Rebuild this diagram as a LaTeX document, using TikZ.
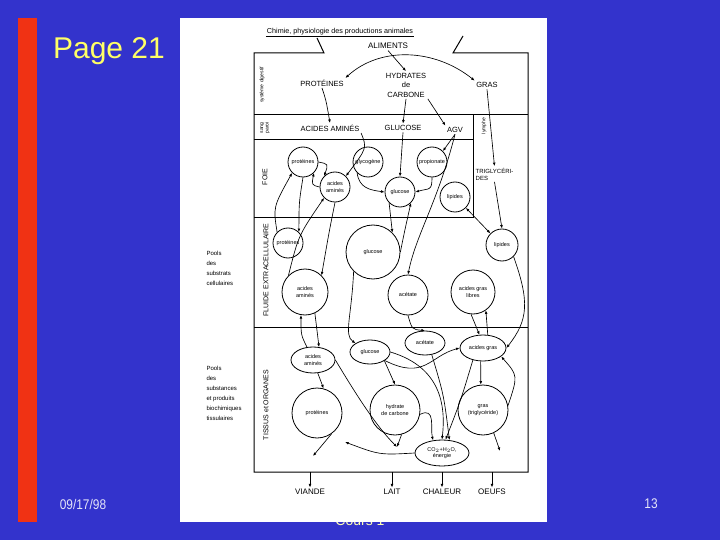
\documentclass[tikz,border=0pt]{standalone}
\usepackage{fontspec}
\setmainfont{Liberation Sans}
\usepackage{tikz}
\usetikzlibrary{arrows.meta, shapes.geometric}

\definecolor{fond}{RGB}{51,51,204}
\definecolor{barre}{RGB}{240,50,20}
\definecolor{jaune}{RGB}{255,255,102}
\definecolor{pied}{RGB}{228,228,248}

\newcommand\scanTitre{\fontsize{7.2}{8}\selectfont}
\newcommand\scanCap{\fontsize{7.5}{9.5}\selectfont}
\newcommand\scanSortie{\fontsize{8}{9}\selectfont}
\newcommand\scanPetit{\fontsize{5.5}{6.2}\selectfont}
\newcommand\scanZone{\fontsize{7}{7.5}\selectfont}
\newcommand\scanMini{\fontsize{5}{5.5}\selectfont}
\newcommand\scanPools{\fontsize{6}{10}\selectfont}

\tikzset{
  cadre/.style={line width=1pt},
  fleche/.style={-{Latex[length=3.6pt,width=2.8pt]}, line width=0.65pt},
  fleches/.style={{Latex[length=3.6pt,width=2.8pt]}-{Latex[length=3.6pt,width=2.8pt]}, line width=0.65pt},
  bassin/.style={circle, draw, line width=0.8pt, inner sep=0pt, align=center, font=\scanPetit},
  reserve/.style={ellipse, draw, line width=0.8pt, inner sep=0pt, align=center, font=\scanPetit},
  etiquette/.style={font=\scanCap, align=center, inner sep=1.5pt},
  zone/.style={rotate=90, font=\scanZone, inner sep=0pt},
}

\begin{document}
\begin{tikzpicture}[x=1pt,y=-1pt]
  % diapositive
  \fill[fond] (0,0) rectangle (720,540);
  \useasboundingbox (0,0) rectangle (720,540);
  \fill[barre] (18,18) rectangle (37,522);
  \node[text=jaune, font=\fontsize{30}{34}\selectfont] (page) at (109,51) {Page 21};
  \node[text=pied, font=\fontsize{14}{16}\selectfont] (date) at (83,504) {\scalebox{0.85}[1]{09/17/98}};
  \node[text=pied, font=\fontsize{14}{16}\selectfont] (numero) at (651,504) {\scalebox{0.85}[1]{13}};
  \node[text=jaune!50!white, anchor=base, font=\fontsize{14}{16}\selectfont] (cours) at (360,525) {Cours 1};

  % page scannee
  \fill[white] (180,18) rectangle (547,522);
  \node[font=\scanTitre, inner sep=1pt] (titreScan) at (340,32) {Chimie, physiologie des productions animales};
  \draw[line width=0.6pt] (titreScan.south west) -- (titreScan.south east);

  \draw[cadre] (317,38) -- (324,53) -- (254,53) -- (254,472) -- (528,472) -- (528,53) -- (453,53) -- (463,36);
  \draw[cadre] (254,115) -- (528,115);
  \draw[cadre] (254,140) -- (473,140);
  \draw[cadre] (473,115) -- (473,218) -- (254,218);
  \draw[cadre] (254,327) -- (528,327);

  % systeme digestif
  \node[etiquette, font=\scanSortie] (aliments) at (388,46) {ALIMENTS};
  \node[etiquette] (proteines) at (322,83) {PROTÉINES};
  \node[etiquette] (hydrates) at (406,85) {HYDRATES\\de\\CARBONE};
  \node[etiquette] (gras) at (487,85) {GRAS};
  \node[zone, font=\scanMini] (digestif) at (262,85) {système digestif};

  % sang, paroi
  \node[zone, font=\scanMini, align=center] (sang) at (265,128) {sang\\paroi};
  \node[etiquette] (aaSang) at (330,128) {ACIDES AMINÉS};
  \node[etiquette] (glcSang) at (403,128) {GLUCOSE};
  \node[etiquette] (agv) at (455,130) {AGV};
  \node[zone, font=\scanMini] (lymphe) at (484,126) {lymphe};
  \node[etiquette, font=\fontsize{6}{7}\selectfont, align=left, anchor=west] (trig) at (474,174) {TRIGLYCÉRI-\\DES};

  % foie
  \node[zone] (foie) at (265,177) {FOIE};
  \node[bassin, minimum size=30pt] (protF) at (303,162) {protéines};
  \node[bassin, minimum size=30pt] (glygF) at (368,162) {glycogène};
  \node[bassin, minimum size=30pt] (propF) at (432,162) {propionate};
  \node[bassin, minimum size=30pt] (aaF) at (335,187) {acides\\aminés};
  \node[bassin, minimum size=30pt] (glcF) at (400,192) {glucose};
  \node[bassin, minimum size=30pt] (lipF) at (455,197) {lipides};

  % fluide extracellulaire
  \node[zone] (fluide) at (266,270) {FLUIDE EXTRACELLULAIRE};
  \node[font=\scanPools, align=left, anchor=north west] (pools1) at (203,248) {Pools\\des\\substrats\\cellulaires};
  \node[bassin, minimum size=30pt] (protE) at (288,243) {protéines};
  \node[bassin, minimum size=54pt] (glcE) at (373,252) {glucose};
  \node[bassin, minimum size=32pt] (lipE) at (502,245) {lipides};
  \node[bassin, minimum size=46pt] (aaE) at (305,292) {acides\\aminés};
  \node[bassin, minimum size=40pt] (acetE) at (408,295) {acétate};
  \node[bassin, minimum size=44pt] (aglE) at (473,292) {acides gras\\libres};

  % tissus et organes
  \node[zone] (tissus) at (266,405) {TISSUS et ORGANES};
  \node[font=\scanPools, align=left, anchor=north west] (pools2) at (203,363) {Pools\\des\\substances\\et produits\\biochimiques\\tissulaires};
  \node[reserve, minimum width=44pt, minimum height=26pt] (aaT) at (313,360) {acides\\aminés};
  \node[reserve, minimum width=40pt, minimum height=24pt] (glcT) at (370,352) {glucose};
  \node[reserve, minimum width=40pt, minimum height=24pt] (acetT) at (425,343) {acétate};
  \node[reserve, minimum width=46pt, minimum height=26pt] (agT) at (483,348) {acides gras};
  \node[bassin, minimum size=50pt] (protT) at (317,413) {protéines};
  \node[bassin, minimum size=50pt] (hdcT) at (395,410) {hydrate\\de carbone};
  \node[bassin, minimum size=50pt] (grasT) at (483,410) {gras\\(triglycéride)};
  \node[reserve, minimum width=54pt, minimum height=26pt] (co2) at (442,453) {CO$_2$+H$_2$O,\\énergie};

  % sorties
  \node[etiquette, font=\scanSortie] (viande) at (310,492) {VIANDE};
  \node[etiquette, font=\scanSortie] (lait) at (392,492) {LAIT};
  \node[etiquette, font=\scanSortie] (chaleur) at (442,492) {CHALEUR};
  \node[etiquette, font=\scanSortie] (oeufs) at (492,492) {OEUFS};
  \coordinate (sViande) at (310,472);
  \coordinate (sLait) at (392,472);
  \coordinate (sChaleur) at (442,472);
  \coordinate (sOeufs) at (492,472);
  \coordinate (versProt) at (345,442);
  \coordinate (versViande) at (313,456);
  \coordinate (versLait) at (397,447);
  \coordinate (versOeufs) at (500,451);

  % digestion
  \draw[fleches] (proteines.north east) .. controls +(35,-32) and +(-40,-32) .. (gras.north west);
  \draw[fleche] (aliments.south) -- (hydrates.north);
  \draw[fleche] (proteines.south) .. controls +(4,12) .. (aaSang.north);
  \draw[fleche] (hydrates.south) -- (glcSang.north);
  \draw[fleche] (hydrates.south east) -- (agv.north west);
  \draw[fleche] (gras.south) -- (trig.north);
  \draw[fleche] (trig.south) -- (lipE.north);

  % foie
  \draw[fleche] (aaSang.south east) .. controls +(6,15) .. (aaF.north east);
  \draw[fleche] (glcSang.south) -- (glcF.north);
  \draw[fleche] (agv.south) -- (propF.north east);
  \draw[fleche] (agv.south) .. controls +(-18,70) and +(8,-40) .. (acetE.north);
  \draw[fleche] (protF.east) .. controls +(10,2) .. (aaF.north west);
  \draw[fleche] (aaF.west) .. controls +(-8,-2) .. (protF.south east);
  \draw[fleche] (glygF.south west) .. controls +(2,15) and +(-15,-2) .. (glcF.west);
  \draw[fleche] (propF.south) .. controls +(0,14) and +(14,-4) .. (glcF.east);
  \draw[fleches] (lipF.south east) -- (lipE.north west);
  \draw[fleche] (glcF.south west) -- (glcE.north east);
  \draw[fleche] (glcE.east) .. controls +(4,-20) .. (glcF.south east);
  \draw[fleche] (protE.north west) .. controls +(-4,-25) .. (protF.south west);
  \draw[fleche] (protF.south) .. controls +(-4,25) .. (protE.north east);
  \draw[fleche] (aaF.south) .. controls +(-6,30) .. (aaE.north east);
  \draw[fleche] (aaE.north west) .. controls +(10,-40) .. (aaF.south west);

  % fluide vers tissus
  \draw[fleche] (glcE.south west) .. controls +(-2,45) and +(-12,-8) .. (glcT.north west);
  \draw[fleche] (aaE.-65) -- (aaT.65);
  \draw[fleche] (aaT.115) .. controls +(-6,-12) .. (aaE.-100);
  \draw[fleche] (acetE.south) .. controls +(4,14) .. (acetT.north);
  \draw[fleche] (aglE.-95) -- (agT.105);
  \draw[fleche] (agT.70) -- (aglE.-55);
  \draw[fleche] (lipE.south east) .. controls +(16,45) and +(22,-28) .. (agT.east);

  % tissus
  \draw[fleche] (aaT.-70) -- (protT.75);
  \draw[fleche] (aaT.east) .. controls +(18,30) and +(-22,-22) .. (versLait);
  \draw[fleche] (hdcT.-75) -- (versLait);
  \draw[fleche] (co2.west) .. controls +(-35,2) .. (versProt);
  \draw[fleche] (protT.-55) -- (versViande);
  \draw[fleche] (glcT.south east) -- (hdcT.north);
  \draw[fleche] (glcT.east) .. controls +(50,15) and +(4,-35) .. (co2.north);
  \draw[fleche] (glcT.-30) .. controls +(40,20) and +(-30,8) .. (agT.west);
  \draw[fleche] (acetT.-60) .. controls +(12,40) .. (co2.60);
  \draw[fleche] (agT.-100) -- (grasT.95);
  \draw[fleche] (grasT.10) .. controls +(10,-30) .. (agT.-25);
  \draw[fleche] (agT.-130) .. controls +(-12,40) .. (co2.75);
  \draw[fleche] (hdcT.-10) .. controls +(16,-8) and +(-3,-12) .. (co2.125);
  \draw[fleche] (grasT.-65) -- (versOeufs);

  % produits
  \draw[fleche] (sViande) -- (viande.north);
  \draw[fleche] (sLait) -- (lait.north);
  \draw[fleche] (sChaleur) -- (chaleur.north);
  \draw[fleche] (sOeufs) -- (oeufs.north);
\end{tikzpicture}
\end{document}
